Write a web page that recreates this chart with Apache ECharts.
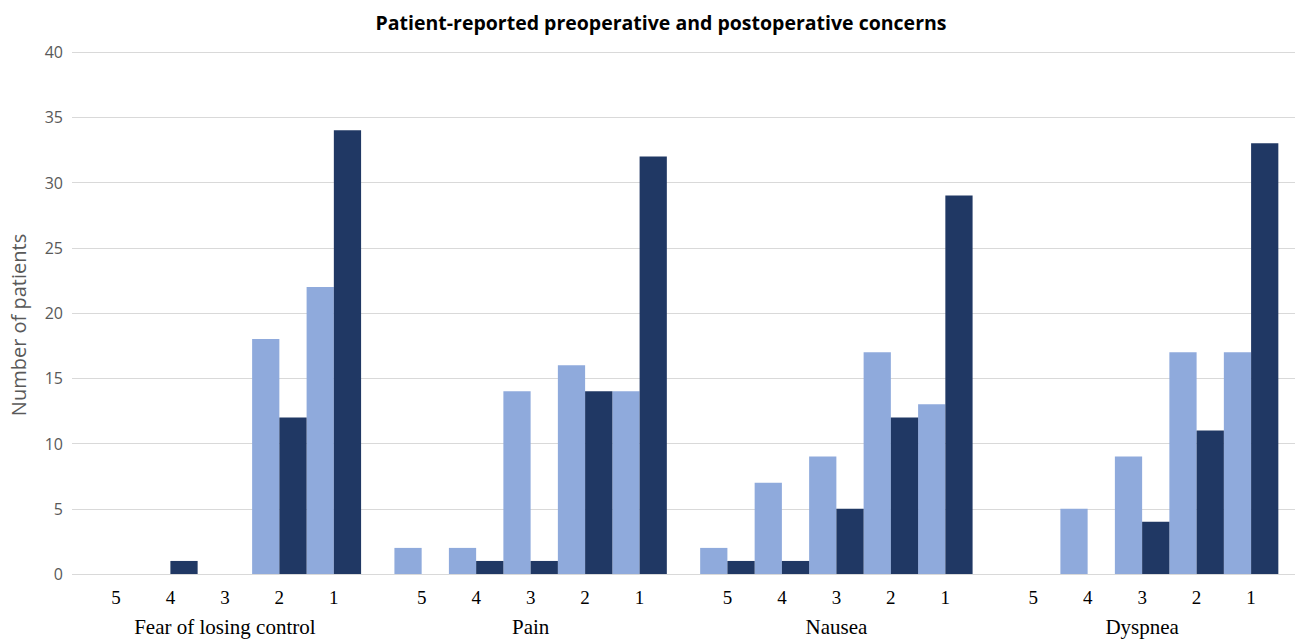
<!DOCTYPE html>
<html>
<head>
<meta charset="utf-8">
<title>Patient-reported concerns</title>
<script src="https://cdn.jsdelivr.net/npm/echarts@6/dist/echarts.min.js"></script>
<style>
  html, body { margin: 0; padding: 0; background: #fff; }
  #chart { width: 1296px; height: 642px; }
</style>
</head>
<body>
<div id="chart"></div>
<script>
// concern groups and the score categories inside each group
var groups = ['Fear of losing control', 'Pain', 'Nausea', 'Dyspnea']
var scores = ['5', '4', '3', '2', '1']

// number of patients per score (light = preop, dark = postop)
var fearPre = [0, 0, 0, 18, 22]
var fearPost = [0, 1, 0, 12, 34]
var painPre = [2, 2, 14, 16, 14]
var painPost = [0, 1, 1, 14, 32]
var nauseaPre = [2, 7, 9, 17, 13]
var nauseaPost = [1, 1, 5, 12, 29]
var dyspneaPre = [0, 5, 9, 17, 17]
var dyspneaPost = [0, 0, 4, 11, 33]

var yMin = 0
var yMax = 40
var yStep = 5

var preData = [fearPre, painPre, nauseaPre, dyspneaPre]
var postData = [fearPost, painPost, nauseaPost, dyspneaPost]

var preColor = '#8FAADC'
var postColor = '#203864'

var plotLeft = 72
var plotRight = 1
var plotTop = 52
var plotBottom = 68
var groupW = (1296 - plotLeft - plotRight) / groups.length
var pad = groupW * 0.0545 // space between neighbouring groups

var grids = [{ left: plotLeft, right: plotRight, top: plotTop, bottom: plotBottom }]
var xAxes = [{ gridIndex: 0, type: 'category', show: false, data: groups }]
var yAxes = [
  {
    gridIndex: 0,
    type: 'value',
    min: yMin,
    max: yMax,
    interval: yStep,
    name: 'Number of patients',
    nameLocation: 'middle',
    nameGap: 44,
    nameTextStyle: { color: '#595959', fontSize: 20, fontFamily: 'Open Sans', padding: [0, 24, 0, 0] },
    axisLine: { show: false },
    axisTick: { show: false },
    axisLabel: { color: '#595959', fontSize: 16, fontFamily: 'Open Sans', margin: 9 },
    splitLine: { lineStyle: { color: '#D9D9D9', width: 1 } }
  }
]
var series = []

groups.forEach(function (g, k) {
  var idx = k + 1
  grids.push({
    left: plotLeft + k * groupW + pad,
    width: groupW - 2 * pad,
    top: plotTop,
    bottom: plotBottom
  })
  xAxes.push({
    gridIndex: idx,
    type: 'category',
    data: scores,
    name: g,
    nameLocation: 'middle',
    nameGap: 42,
    nameTextStyle: { color: '#000', fontSize: 21, fontFamily: 'Liberation Serif' },
    axisLine: { show: false },
    axisTick: { show: false },
    axisLabel: { color: '#000', fontSize: 19, fontFamily: 'Liberation Serif', margin: 14 }
  })
  yAxes.push({ gridIndex: idx, type: 'value', min: yMin, max: yMax, interval: yStep, show: false })
  series.push({
    name: 'Preoperative',
    type: 'bar',
    xAxisIndex: idx,
    yAxisIndex: idx,
    barGap: 0,
    barCategoryGap: 0,
    itemStyle: { color: preColor },
    data: preData[k]
  })
  series.push({
    name: 'Postoperative',
    type: 'bar',
    xAxisIndex: idx,
    yAxisIndex: idx,
    barGap: 0,
    barCategoryGap: 0,
    itemStyle: { color: postColor },
    data: postData[k]
  })
})

var option = {
  animation: false,
  backgroundColor: '#fff',
  title: {
    text: 'Patient-reported preoperative and postoperative concerns',
    left: 656,
    textAlign: 'center',
    top: 7,
    textStyle: { color: '#000', fontSize: 19.5, fontWeight: 'bold', fontFamily: 'Open Sans' }
  },
  grid: grids,
  xAxis: xAxes,
  yAxis: yAxes,
  series: series
}

var chart = echarts.init(document.getElementById('chart'), null, { renderer: 'svg' })
chart.setOption(option)
</script>
</body>
</html>
